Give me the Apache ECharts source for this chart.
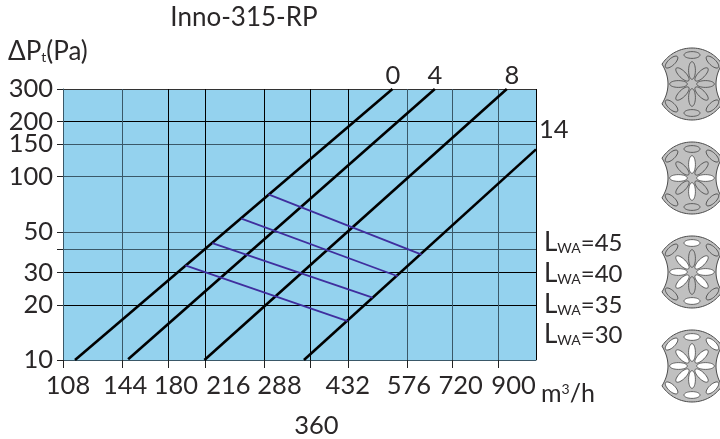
<!DOCTYPE html>
<html><head><meta charset="utf-8">
<style>html,body{margin:0;padding:0;background:#fff}#c{width:720px;height:439px}</style>
<script src="https://cdn.jsdelivr.net/npm/echarts@6/dist/echarts.min.js"></script>
</head><body><div id="c"></div>
<script>
const flowTicks = [108,144,180,216,288,360,432,576,720,900,1080];
const pressureTicks = [10,20,30,40,50,100,150,200,300];
const curve0 = [[114.5,10],[537,300]];
const curve4 = [[148.3,10.1],[660,300]];
const curve8 = [[215,10],[937,300]];
const curve14 = [[349,10],[1080,140.6]];
const lwa45 = [[293.6,80],[619,37.5]];
const lwa40 = [[257.4,58.9],[551,28.6]];
const lwa35 = [[223.4,43.4],[487.6,21.9]];
const lwa30 = [[195.9,32.8],[431.7,16.3]];
const curveLabels = ['0','4','8','14'];
const lwaLabels = ['45','40','35','30'];
const title = 'Inno-315-RP';

const FONT = 'Lato';
const INK = '#2a2728';
const SLATE = '#3a5868';
const K = '#000';
const xGridColors = [SLATE,SLATE,K,K,K,K,K,SLATE,SLATE,SLATE,K];
const yGridColors = [K,K,K,SLATE,SLATE,SLATE,SLATE,K,'#333'];
const labelShift = {108:5,144:3,180:8,216:23,288:15,360:6,432:0,576:2,720:8,900:15};

const black = d => ({type:'line',data:d,showSymbol:false,silent:true,lineStyle:{color:'#000',width:2.6}});
const violet = d => ({type:'line',data:d,showSymbol:false,silent:true,lineStyle:{color:'#3f2e9e',width:1.8}});

function txt(x,y,t,extra){
  return {type:'text',x,y,silent:true,z:50,style:Object.assign({text:t,font:'25.5px '+FONT,fill:INK,align:'left',verticalAlign:'middle'},extra||{})};
}
const subRich = {
  m:{fontFamily:FONT,fontSize:26,color:INK,lineHeight:28},
  d:{fontFamily:FONT,fontSize:24,color:INK,lineHeight:28},
  s:{fontFamily:FONT,fontSize:14,color:INK,lineHeight:28,padding:[10,0,0,0]},
  u:{fontFamily:FONT,fontSize:14,color:INK,lineHeight:28,padding:[0,0,10,0]},
  n:{fontFamily:FONT,fontSize:25,color:INK,lineHeight:28}
};
function richTxt(x,y,t){
  return {type:'text',x,y,silent:true,z:50,style:{text:t,rich:subRich,fontFamily:FONT,fontSize:24,fill:INK,align:'left',verticalAlign:'middle'}};
}

const inner=[0,45,90,135,180,225,270,315];
const outer=[0,43,-43,180,223,137];
function outline(cx,cy){
  const pts=[], R=36, a0=Math.asin(30/R), h=R*Math.cos(a0);
  for(let i=0;i<=40;i++){const a=-a0+2*a0*i/40;pts.push([cx+R*Math.sin(a),cy-R*Math.cos(a)]);}
  for(let i=1;i<20;i++){const t=i/20;pts.push([cx+30-24*t*(1-t),cy-h+2*h*t]);}
  for(let i=0;i<=40;i++){const a=-a0+2*a0*i/40;pts.push([cx-R*Math.sin(a),cy+R*Math.cos(a)]);}
  for(let i=1;i<20;i++){const t=i/20;pts.push([cx-30+24*t*(1-t),cy+h-2*h*t]);}
  return pts;
}
function icon(cy,innerWhite,outerWhite){
  const cx=692, kids=[];
  kids.push({type:'polygon',shape:{points:outline(cx,cy)},style:{fill:'#c0c0c0',stroke:'#4a4a4a',lineWidth:1}});
  inner.forEach((a,i)=>{
    const r=a*Math.PI/180, dx=Math.sin(r)*13.5, dy=-Math.cos(r)*13.5;
    kids.push({type:'ellipse',shape:{cx:0,cy:0,rx:3.4,ry:8.8},x:cx+dx,y:cy+dy,rotation:-r,style:{fill:innerWhite[i]?'#fff':'#c0c0c0',stroke:'#444',lineWidth:0.8}});
  });
  outer.forEach((a,i)=>{
    const rad=a===0||a===180?29:30, r=a*Math.PI/180, dx=Math.sin(r)*rad, dy=-Math.cos(r)*rad;
    kids.push({type:'ellipse',shape:{cx:0,cy:0,rx:8,ry:3.4},x:cx+dx,y:cy+dy,rotation:-r,style:{fill:outerWhite[i]?'#fff':'#c0c0c0',stroke:'#444',lineWidth:0.8}});
  });
  return {type:'group',silent:true,children:kids};
}
const N=0,Y=1;
const icons=[
  icon(84,[N,N,N,N,N,N,N,N],[N,N,N,N,N,N]),
  icon(178,[Y,N,Y,N,Y,N,Y,N],[N,N,N,N,N,N]),
  icon(272,[N,Y,Y,Y,N,Y,Y,Y],[Y,N,N,Y,N,N]),
  icon(366,[Y,Y,Y,Y,Y,Y,Y,Y],[Y,Y,Y,Y,Y,Y])
];

const option = {
  animation:false,
  backgroundColor:'#fff',
  textStyle:{fontFamily:FONT},
  grid:{left:63,right:184,top:89,bottom:72,show:true,backgroundColor:'#94d2ee',borderWidth:0,containLabel:false},
  xAxis:{type:'log',logBase:10,min:108,max:1080,
    axisLine:{show:true,lineStyle:{color:SLATE,width:1}},
    axisTick:{show:true,length:8,lineStyle:{color:'#222',width:1},customValues:flowTicks},
    minorTick:{show:false},
    splitLine:{show:true,showMinLine:true,showMaxLine:true,lineStyle:{color:xGridColors,width:1}},
    axisLabel:{show:true,showMinLabel:true,showMaxLabel:false,hideOverlap:false,customValues:flowTicks,margin:12,color:INK,fontFamily:FONT,fontSize:25.5,
      formatter:v=>{const k=Math.round(v);if(k===1080)return '';return k===360?`{l${k}|}\n{l${k}|${k}}`:`{l${k}|${k}}`;},
      rich:Object.fromEntries(flowTicks.map(k=>[`l${k}`,{fontFamily:FONT,fontSize:25.5,color:INK,lineHeight:k===360?36:28,padding:[0,0,0,2*(labelShift[k]||0)]}]))}
  },
  yAxis:{type:'log',logBase:10,min:10,max:300,
    axisLine:{show:true,lineStyle:{color:SLATE,width:1}},
    axisTick:{show:true,length:6,lineStyle:{color:'#222',width:1},customValues:pressureTicks},
    minorTick:{show:false},
    splitLine:{show:true,showMinLine:true,showMaxLine:true,lineStyle:{color:yGridColors,width:1}},
    axisLabel:{show:true,showMinLabel:true,showMaxLabel:true,customValues:pressureTicks.filter(v=>v!==40),margin:10,color:INK,fontFamily:FONT,fontSize:25.5,formatter:v=>String(Math.round(v))}
  },
  series:[black(curve0),black(curve4),black(curve8),black(curve14),violet(lwa45),violet(lwa40),violet(lwa35),violet(lwa30)],
  graphic:[
    txt(244,18,title,{align:'center',font:'26px '+FONT}),
    richTxt(8,52,'{m|ΔP}{s|t}{m|(Pa)}'),
    txt(393,76,curveLabels[0],{align:'center'}),
    txt(435,76,curveLabels[1],{align:'center'}),
    txt(512,76,curveLabels[2],{align:'center'}),
    txt(539,130,curveLabels[3]),
    richTxt(544,243,`{m|L}{s|WA}{d|=${lwaLabels[0]}}`),
    richTxt(544,274,`{m|L}{s|WA}{d|=${lwaLabels[1]}}`),
    richTxt(544,305,`{m|L}{s|WA}{d|=${lwaLabels[2]}}`),
    richTxt(544,335,`{m|L}{s|WA}{d|=${lwaLabels[3]}}`),
    richTxt(541,394,'{n|m}{u|3}{n|/h}'),
    ...icons
  ]
};
echarts.init(document.getElementById('c'),null,{renderer:'canvas'}).setOption(option);
</script></body></html>
